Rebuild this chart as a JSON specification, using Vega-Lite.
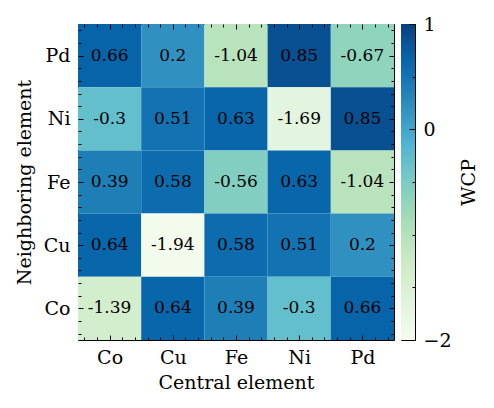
{
  "$schema": "https://vega.github.io/schema/vega-lite/v6.json",
  "padding": {"left": 14, "top": 14, "right": 5, "bottom": 5},
  "background": "white",
  "config": {
    "font": "DejaVu Serif",
    "view": {"stroke": "black", "strokeWidth": 1},
    "axis": {
      "domain": false,
      "grid": false,
      "ticks": true,
      "tickColor": "black",
      "tickWidth": 1,
      "tickSize": -5,
      "labelFont": "DejaVu Serif",
      "labelFontSize": 19,
      "labelColor": "black",
      "titleFont": "DejaVu Serif",
      "titleFontSize": 19,
      "titleFontWeight": "normal",
      "titleColor": "black",
      "labelOverlap": false
    }
  },
  "hconcat": [
    {
      "width": 316,
      "height": 316,
      "data": {
        "values": [
          {"central": "Co", "neighbor": "Pd", "value": 0.66},
          {"central": "Cu", "neighbor": "Pd", "value": 0.2},
          {"central": "Fe", "neighbor": "Pd", "value": -1.04},
          {"central": "Ni", "neighbor": "Pd", "value": 0.85},
          {"central": "Pd", "neighbor": "Pd", "value": -0.67},
          {"central": "Co", "neighbor": "Ni", "value": -0.3},
          {"central": "Cu", "neighbor": "Ni", "value": 0.51},
          {"central": "Fe", "neighbor": "Ni", "value": 0.63},
          {"central": "Ni", "neighbor": "Ni", "value": -1.69},
          {"central": "Pd", "neighbor": "Ni", "value": 0.85},
          {"central": "Co", "neighbor": "Fe", "value": 0.39},
          {"central": "Cu", "neighbor": "Fe", "value": 0.58},
          {"central": "Fe", "neighbor": "Fe", "value": -0.56},
          {"central": "Ni", "neighbor": "Fe", "value": 0.63},
          {"central": "Pd", "neighbor": "Fe", "value": -1.04},
          {"central": "Co", "neighbor": "Cu", "value": 0.64},
          {"central": "Cu", "neighbor": "Cu", "value": -1.94},
          {"central": "Fe", "neighbor": "Cu", "value": 0.58},
          {"central": "Ni", "neighbor": "Cu", "value": 0.51},
          {"central": "Pd", "neighbor": "Cu", "value": 0.2},
          {"central": "Co", "neighbor": "Co", "value": -1.39},
          {"central": "Cu", "neighbor": "Co", "value": 0.64},
          {"central": "Fe", "neighbor": "Co", "value": 0.39},
          {"central": "Ni", "neighbor": "Co", "value": -0.3},
          {"central": "Pd", "neighbor": "Co", "value": 0.66}
        ]
      },
      "transform": [
        {"calculate": "indexof(['Co','Cu','Fe','Ni','Pd'], datum.central)", "as": "xi"},
        {"calculate": "indexof(['Co','Cu','Fe','Ni','Pd'], datum.neighbor)", "as": "yi"},
        {"calculate": "datum.xi - 0.5", "as": "xlo"},
        {"calculate": "datum.xi + 0.5", "as": "xhi"},
        {"calculate": "datum.yi - 0.5", "as": "ylo"},
        {"calculate": "datum.yi + 0.5", "as": "yhi"}
      ],
      "resolve": {"axis": {"x": "independent", "y": "independent"}},
      "layer": [
        {
          "mark": {"type": "rect"},
          "encoding": {
            "x": {
              "field": "xlo", "type": "quantitative",
              "scale": {"domain": [-0.5, 4.5], "nice": false, "zero": false},
              "axis": {
                "orient": "bottom",
                "zindex": 1,
                "title": "Central element",
                "values": [-0.4, -0.2, 0, 0.2, 0.4, 0.6, 0.8, 1, 1.2, 1.4, 1.6, 1.8, 2, 2.2, 2.4, 2.6, 2.8, 3, 3.2, 3.4, 3.6, 3.8, 4, 4.2, 4.4],
                "labelExpr": "datum.value % 1 === 0 ? ['Co','Cu','Fe','Ni','Pd'][datum.value] : ''",
                "labelPadding": 13,
                "titlePadding": 6,
                "encoding": {"ticks": {"y2": {"value": {"expr": "datum.value % 1 === 0 ? -5 : -3"}}}}
              }
            },
            "x2": {"field": "xhi"},
            "y": {
              "field": "ylo", "type": "quantitative",
              "scale": {"domain": [-0.5, 4.5], "nice": false, "zero": false},
              "axis": {
                "orient": "left",
                "zindex": 1,
                "title": "Neighboring element",
                "values": [-0.4, -0.2, 0, 0.2, 0.4, 0.6, 0.8, 1, 1.2, 1.4, 1.6, 1.8, 2, 2.2, 2.4, 2.6, 2.8, 3, 3.2, 3.4, 3.6, 3.8, 4, 4.2, 4.4],
                "labelExpr": "datum.value % 1 === 0 ? ['Co','Cu','Fe','Ni','Pd'][datum.value] : ''",
                "labelPadding": 13,
                "titlePadding": 9,
                "encoding": {"ticks": {"x2": {"value": {"expr": "datum.value % 1 === 0 ? 5 : 3"}}}}
              }
            },
            "y2": {"field": "yhi"},
            "color": {
              "field": "value", "type": "quantitative",
              "scale": {
                "domain": [-2, -1.625, -1.25, -0.875, -0.5, -0.125, 0.25, 0.625, 1],
                "range": ["#f7fcf0", "#e0f3db", "#ccebc5", "#a8ddb5", "#7bccc4", "#4eb3d3", "#2b8cbe", "#0868ac", "#084081"],
                "interpolate": "rgb"
              },
              "legend": null
            }
          }
        },
        {
          "mark": {"type": "text", "font": "DejaVu Serif", "fontSize": 17, "color": "black", "baseline": "middle", "align": "center"},
          "encoding": {
            "x": {
              "field": "xi", "type": "quantitative",
              "axis": {
                "orient": "top",
                "zindex": 1,
                "title": null,
                "labels": false,
                "values": [-0.4, -0.2, 0, 0.2, 0.4, 0.6, 0.8, 1, 1.2, 1.4, 1.6, 1.8, 2, 2.2, 2.4, 2.6, 2.8, 3, 3.2, 3.4, 3.6, 3.8, 4, 4.2, 4.4],
                "encoding": {"ticks": {"y2": {"value": {"expr": "datum.value % 1 === 0 ? 5 : 3"}}}}
              }
            },
            "y": {
              "field": "yi", "type": "quantitative",
              "axis": {
                "orient": "right",
                "zindex": 1,
                "title": null,
                "labels": false,
                "values": [-0.4, -0.2, 0, 0.2, 0.4, 0.6, 0.8, 1, 1.2, 1.4, 1.6, 1.8, 2, 2.2, 2.4, 2.6, 2.8, 3, 3.2, 3.4, 3.6, 3.8, 4, 4.2, 4.4],
                "encoding": {"ticks": {"x2": {"value": {"expr": "datum.value % 1 === 0 ? -5 : -3"}}}}
              }
            },
            "text": {"field": "value", "type": "nominal"}
          }
        }
      ]
    },
    {
      "width": 14,
      "height": 316,
      "data": {"values": [{"lo": -2, "hi": 1}]},
      "mark": {
        "type": "rect",
        "fill": {
          "gradient": "linear", "x1": 0, "y1": 1, "x2": 0, "y2": 0,
          "stops": [
            {"offset": 0, "color": "#f7fcf0"},
            {"offset": 0.125, "color": "#e0f3db"},
            {"offset": 0.25, "color": "#ccebc5"},
            {"offset": 0.375, "color": "#a8ddb5"},
            {"offset": 0.5, "color": "#7bccc4"},
            {"offset": 0.625, "color": "#4eb3d3"},
            {"offset": 0.75, "color": "#2b8cbe"},
            {"offset": 0.875, "color": "#0868ac"},
            {"offset": 1, "color": "#084081"}
          ]
        }
      },
      "encoding": {
        "y": {
          "field": "lo", "type": "quantitative",
          "scale": {"domain": [-2, 1], "nice": false, "zero": false},
          "axis": {
            "orient": "right",
            "zindex": 1,
            "title": "WCP",
            "titleAngle": -90,
            "titlePadding": 27,
            "tickSize": -6,
            "values": [-2, -1.5, -1, -0.5, 0, 0.5, 1],
            "labelExpr": "datum.value === 1 ? '1' : datum.value === 0 ? '0' : datum.value === -2 ? '\u22122' : ''",
            "labelPadding": 14,
            "labelFlush": false,
            "encoding": {"ticks": {"x2": {"value": {"expr": "(datum.value === 0 || datum.value === 1 || datum.value === -2) ? -6 : -3"}}}}
          }
        },
        "y2": {"field": "hi"}
      }
    }
  ],
  "spacing": 5
}
